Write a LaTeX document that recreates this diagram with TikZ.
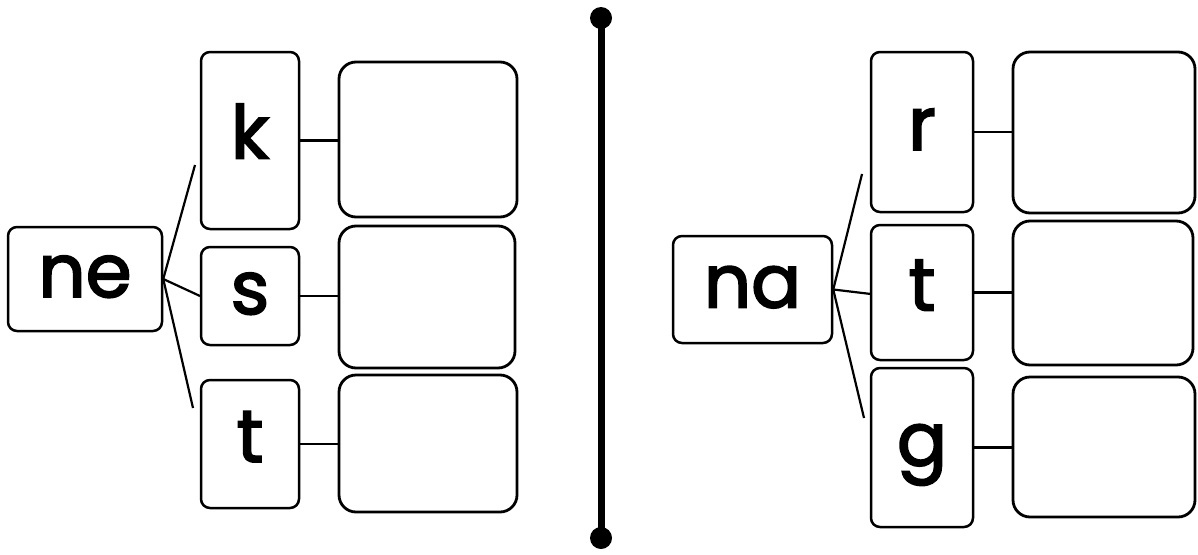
\documentclass[tikz,border=0pt]{standalone}
\usepackage{fontspec}
\setmainfont{Poppins}
\newfontfamily\glyphfont{Poppins}[FakeBold=2.5]
\usetikzlibrary{positioning}
\tikzset{
  stembox/.style={draw, line width=2.5pt, rounded corners=9pt, inner sep=0pt,
    font=\glyphfont\fontsize{74}{74}\selectfont, text height=36pt, text depth=0pt},
  letterbox/.style={stembox, minimum width=98pt},
  answerbox/.style={draw, line width=2.8pt, rounded corners=17pt, inner sep=0pt},
  branch/.style={line width=2.2pt},
  link/.style={line width=2.4pt},
  divider/.style={line width=7pt},
  enddot/.style={circle, fill, inner sep=0pt, minimum size=22pt}
}
\begin{document}
\begin{tikzpicture}[x=1pt,y=-1pt]
  \useasboundingbox (0,0) rectangle (1198,554);
  % left word family
  \node[stembox, minimum width=154pt, minimum height=104pt] (ne) at (85,279) {ne};
  \node[letterbox, minimum height=177pt] (k) at (250,140.5) {k};
  \node[letterbox, minimum height=98pt] (s) at (250,296) {s};
  \node[letterbox, minimum height=128pt] (t1) at (250,444) {t};
  \node[answerbox, minimum width=178pt, minimum height=155pt] (a1) at (428,139.5) {};
  \node[answerbox, minimum width=176pt, minimum height=142pt] (a2) at (427,297) {};
  \node[answerbox, minimum width=178pt, minimum height=137pt] (a3) at (428,443.5) {};
  \coordinate (kend) at (195,165);
  \coordinate (send) at (200,296);
  \coordinate (tend) at (193,408);
  \draw[branch] (ne.east) -- (kend);
  \draw[branch] (ne.east) -- (send);
  \draw[branch] (ne.east) -- (tend);
  \draw[link] (k.east) -- (k.east -| a1.west);
  \draw[link] (s.east) -- (s.east -| a2.west);
  \draw[link] (t1.east) -- (t1.east -| a3.west);
  % divider
  \node[enddot] (top) at (601,18) {};
  \node[enddot] (bottom) at (601,538) {};
  \draw[divider] (top.center) -- (bottom.center);
  % right word family
  \node[stembox, minimum width=159pt, minimum height=107pt] (na) at (752.5,289.5) {na};
  \node[letterbox, minimum width=102pt, minimum height=160pt] (r) at (922,132) {r};
  \node[letterbox, minimum width=102pt, minimum height=135pt] (t2) at (922,292.5) {t};
  \node[letterbox, minimum width=102pt, minimum height=159pt] (g) at (922,447.5) {g};
  \node[answerbox, minimum width=182pt, minimum height=161pt] (b1) at (1104,132.5) {};
  \node[answerbox, minimum width=180pt, minimum height=144pt] (b2) at (1103,293) {};
  \node[answerbox, minimum width=182pt, minimum height=140pt] (b3) at (1104,447) {};
  \coordinate (rend) at (862,174);
  \coordinate (t2end) at (871,294);
  \coordinate (gend) at (864,418);
  \draw[branch] (na.east) -- (rend);
  \draw[branch] (na.east) -- (t2end);
  \draw[branch] (na.east) -- (gend);
  \draw[link] (r.east) -- (r.east -| b1.west);
  \draw[link] (t2.east) -- (t2.east -| b2.west);
  \draw[link] (g.east) -- (g.east -| b3.west);
\end{tikzpicture}
\end{document}
